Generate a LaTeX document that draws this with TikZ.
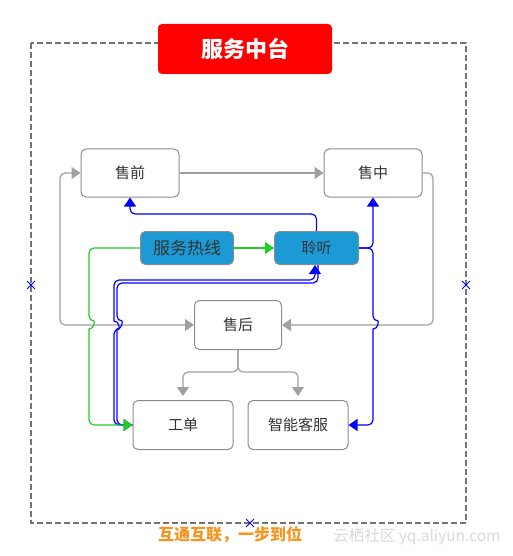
\documentclass[tikz,border=0pt]{standalone}
\usepackage{fontspec}
\setmainfont{Noto Sans CJK SC}
\usetikzlibrary{positioning,arrows.meta,shapes.misc}

\definecolor{linegray}{HTML}{A0A0A0}
\definecolor{boxgray}{HTML}{8C8C8C}
\definecolor{hotblue}{HTML}{1B9AD6}
\definecolor{linkblue}{HTML}{0000FF}
\definecolor{linkgreen}{HTML}{22CC22}
\definecolor{slogan}{HTML}{F7941D}

\begin{document}
\begin{tikzpicture}[
    x=1pt,
    y=-1pt,
    font=\fontsize{15}{18}\selectfont,
    block/.style={
        draw=boxgray,
        rounded corners=5pt,
        line width=1pt,
        fill=white,
        text=black!80,
        minimum width=98pt,
        minimum height=48pt,
        align=center
    },
    hot/.style={block, fill=hotblue, minimum height=33pt},
    title/.style={fill=red, rounded corners=4pt, text=white,
        font=\fontsize{22}{26}\selectfont\bfseries,
        minimum width=174pt, minimum height=50pt},
    frame/.style={draw=black!55, line width=2.2pt, dash pattern=on 6pt off 3pt},
    xmark/.style={cross out, draw=linkblue, line width=0.8pt,
        minimum size=7pt, inner sep=0pt},
    gline/.style={draw=linegray, line width=1.2pt, rounded corners=5pt},
    garrow/.style={gline, -{Triangle[length=9pt,width=12pt]}},
    barrow/.style={draw=linkblue, line width=1.2pt, rounded corners=5pt,
        -{Triangle[length=9pt,width=12pt]}},
    grnarrow/.style={draw=linkgreen, line width=1.2pt, rounded corners=5pt,
        -{Triangle[length=9pt,width=12pt]}}
]
\useasboundingbox (0,0) rectangle (513,556);

% ============================================================
% RAMKA I TYTUL
% ============================================================
\draw[frame] (31,43) rectangle (466,523);
\node[title] (title) at (245,49) {服务中台};

\node[xmark] (mkleft) at (31,285) {};
\node[xmark] (mkright) at (466,285) {};
\node[xmark] (mkbottom) at (250,523) {};

% ============================================================
% WEZLY
% ============================================================
\node[block] (presale) at (130,173) {售前};
\node[block, right=144pt of presale] (insale) {售中};
\node[hot, minimum width=93pt, font=\fontsize{17}{20}\selectfont] (hotline) at (187,248) {服务热线};
\node[hot, minimum width=84pt, right=40pt of hotline] (listen) {聆听};
\node[block, minimum width=87pt, minimum height=49pt] (aftersale) at (238,325) {售后};
\node[block, minimum width=100pt, minimum height=49pt] (ticket) at (183,425) {工单};
\node[block, minimum width=100pt, minimum height=49pt, right=14pt of ticket] (robot) {智能客服};

% ============================================================
% SZARE POLACZENIA
% ============================================================
\draw[garrow] (presale) -- (insale);
\draw[garrow] (insale.east) -- (433,173) -- (433,325) -- (aftersale.east);
\draw[gline, {Triangle[length=9pt,width=12pt]}-{Triangle[length=9pt,width=12pt]}]
    (aftersale.west) -- (60,325) -- (60,173) -- (presale.west);
\draw[garrow, shorten >=4pt] (aftersale.south) -- (238,372) -| (ticket.north);
\draw[garrow, shorten >=4pt] (aftersale.south) -- (238,372) -| (robot.north);

% ============================================================
% NIEBIESKIE POLACZENIA
% ============================================================
\draw[barrow] (listen.north) -- ++(0,-17) -| (presale.south);
\draw[barrow] (listen.east) -| (insale.south);
\draw[barrow] (listen.east) -- (373,248) -- (373,321)
    [sharp corners] .. controls (378.5,321) and (378.5,329) .. (373,329)
    [rounded corners=5pt] |- (robot.east);

% podwojna linia
\draw[barrow] (ticket.west) -- (114,425) -- (114,329)
    [sharp corners] .. controls (119.5,329) and (119.5,321) .. (114,321)
    [rounded corners=5pt] -- (114,280) -| ([xshift=-1.5pt]listen.south);
\draw[barrow] ([xshift=1.5pt]listen.south) -- ++(0,18) -- (117,283) -- (117,321)
    [sharp corners] .. controls (122.5,321) and (122.5,329) .. (117,329)
    [rounded corners=5pt] |- (ticket.west);

% ============================================================
% ZIELONE POLACZENIA
% ============================================================
\draw[grnarrow] (hotline) -- (listen);
\draw[grnarrow] (hotline.west) -- (89,248) -- (89,321)
    [sharp corners] .. controls (94.5,321) and (94.5,329) .. (89,329)
    [rounded corners=5pt] |- (ticket.west);

% ============================================================
% PODPISY
% ============================================================
\node[text=slogan, font=\fontsize{16}{18}\selectfont\bfseries] (motto) at (230,535) {互通互联，一步到位};
\node[text=black!15, font=\fontsize{15.5}{18}\selectfont] (mark) at (417,537) {云栖社区 yq.aliyun.com};

\end{tikzpicture}
\end{document}
